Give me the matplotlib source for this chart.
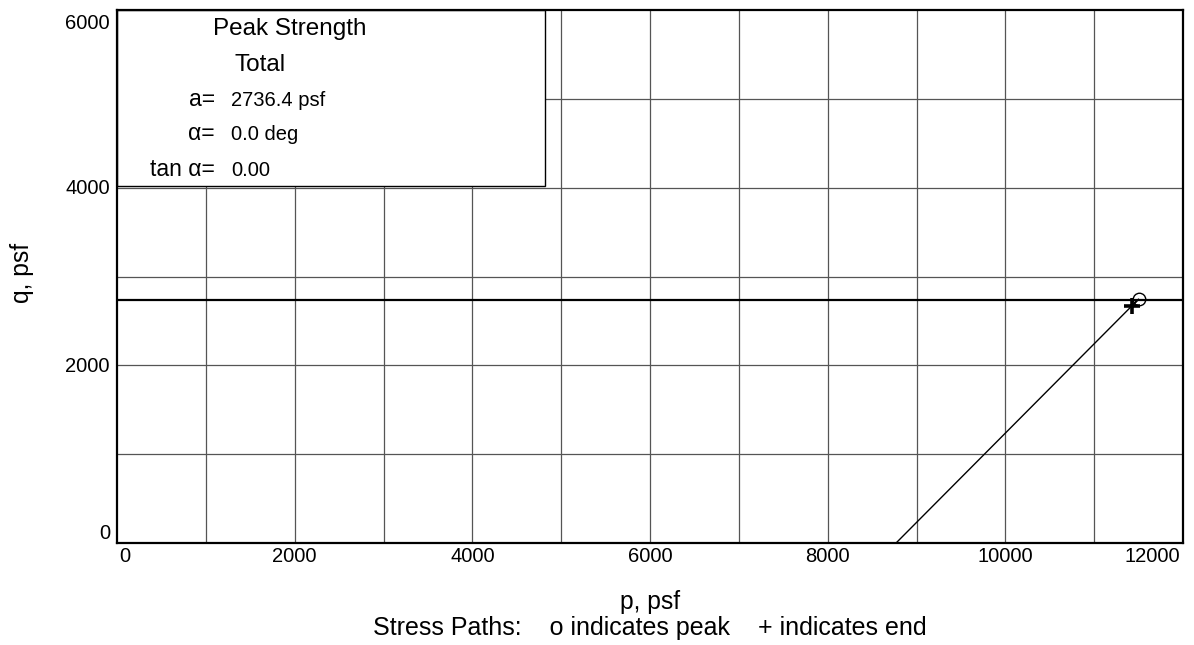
import matplotlib
matplotlib.use("Agg")
import matplotlib.pyplot as plt
from matplotlib.patches import Rectangle
import matplotlib.transforms as mtransforms

plt.rcParams['font.family'] = ['Liberation Sans', 'DejaVu Sans']

# Data
x_ticks = [0, 2000, 4000, 6000, 8000, 10000, 12000]
y_ticks = [0, 2000, 4000, 6000]
strength_a = 2736.4          # psf, failure line intercept
alpha_deg = 0.0
tan_alpha = 0.00
path_p = [8770, 11500, 11430]   # stress path p (start, peak, end)
path_q = [0, 2745, 2670]        # stress path q
peak_p, peak_q = 11500, 2745
end_p, end_q = 11430, 2670

fig = plt.figure(figsize=(11.94, 6.45), dpi=100)
ax = fig.add_axes([117/1194, 1 - 543/645, (1183-117)/1194, (543-10)/645])
ax.set_xlim(0, 12000)
ax.set_ylim(0, 6000)

# grid every 1000
for xv in range(1000, 12000, 1000):
    ax.axvline(xv, color='#555555', lw=0.9, zorder=1)
for yv in range(1000, 6000, 1000):
    ax.axhline(yv, color='#555555', lw=0.9, zorder=1)

# failure line
ax.axhline(strength_a, color='black', lw=1.6, zorder=3)
# stress path
ax.plot(path_p, path_q, color='black', lw=1.0, zorder=4)
ax.plot([peak_p], [peak_q], marker='o', ms=9, mfc='none', mec='black', mew=1.0, zorder=5)
ax.plot([end_p], [end_q], marker='+', ms=11, mec='black', mew=2.6, zorder=5)

# legend box
ax.add_patch(Rectangle((0, 0.67), 0.4015, 0.33, transform=ax.transAxes,
                       facecolor='white', edgecolor='black', lw=1.0, zorder=6))

def fx(px):
    return (px - 117) / 1066
def fy(py):
    return (543 - py) / 533

ax.text(fx(290), fy(35), 'Peak Strength', transform=ax.transAxes, ha='center', va='baseline', fontsize=17.5, zorder=7)
ax.text(fx(260), fy(71), 'Total', transform=ax.transAxes, ha='center', va='baseline', fontsize=17.5, zorder=7)
labels = ['a=', 'α=', 'tan α=']
values = [f'{strength_a:.1f} psf', f'{alpha_deg:.1f} deg', f'{tan_alpha:.2f}']
baselines = [106, 140, 176]
for lab, val, b in zip(labels, values, baselines):
    ax.text(fx(215), fy(b), lab, transform=ax.transAxes, ha='right', va='baseline', fontsize=16.5, zorder=7)
    ax.text(fx(231), fy(b), val, transform=ax.transAxes, ha='left', va='baseline', fontsize=14.5, zorder=7)

# ticks (labels drawn manually for custom alignment)
ax.set_xticks(x_ticks)
ax.set_yticks(y_ticks)
ax.tick_params(length=0, labelbottom=False, labelleft=False)

def offset(dx, dy):
    return mtransforms.ScaledTranslation(dx/100, dy/100, fig.dpi_scale_trans)

xtr = ax.get_xaxis_transform()
for i, v in enumerate(x_ticks):
    ha = 'left' if i == 0 else ('right' if i == len(x_ticks) - 1 else 'center')
    dx = 2 if i == 0 else (-3 if i == len(x_ticks) - 1 else 0)
    ax.text(v, 0, str(v), transform=xtr + offset(dx, -4), ha=ha, va='top', fontsize=14.5, clip_on=False)

ytr = ax.get_yaxis_transform()
for i, v in enumerate(y_ticks):
    if i == 0:
        va, dy = 'bottom', 0
    elif i == len(y_ticks) - 1:
        va, dy = 'top', -4
    else:
        va, dy = 'center', -1
    ax.text(0, v, str(v), transform=ytr + offset(-7, dy), ha='right', va=va, fontsize=14.5, clip_on=False)

for s in ax.spines.values():
    s.set_linewidth(1.6)
    s.set_zorder(8)

fig.text(650/1194, 1 - 602/645, 'p, psf', ha='center', va='center', fontsize=17.7)
fig.text(650/1194, 1 - 628/645, 'Stress Paths:    o indicates peak    + indicates end', ha='center', va='center', fontsize=18)
fig.text(22/1194, 1 - 273/645, 'q, psf', ha='center', va='center', rotation=90, fontsize=17.7)

fig.savefig('out.png', dpi=100)
